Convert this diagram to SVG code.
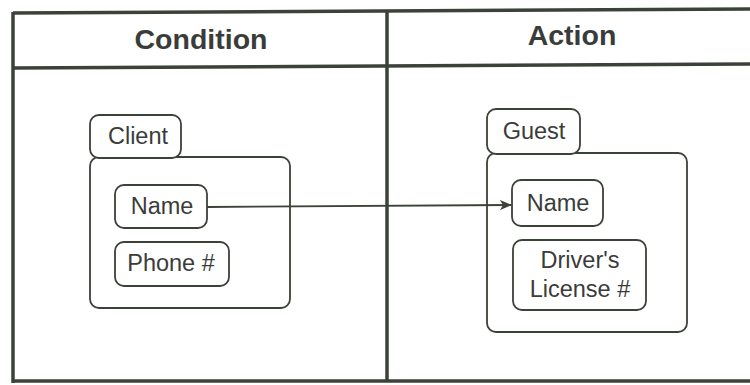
<svg xmlns="http://www.w3.org/2000/svg" width="750" height="385" viewBox="0 0 750 385">
  <style>
    .frame { fill: none; stroke: #3b4239; stroke-width: 3.5; }
    .box { fill: #ffffff; stroke: #3b4239; stroke-width: 1.8; }
    .hdr { font-family: "Liberation Sans", Arial, sans-serif; font-size: 28.5px; font-weight: bold; fill: #3a3c3a; text-anchor: middle; }
    .lbl { font-family: "Liberation Sans", Arial, sans-serif; font-size: 23.5px; fill: #3a3c3a; text-anchor: middle; }
    .conn { fill: none; stroke: #3b4239; stroke-width: 1.8; }
  </style>
  <defs>
    <marker id="arrow" viewBox="0 0 12 10" refX="11" refY="5" markerWidth="12" markerHeight="10" markerUnits="userSpaceOnUse" orient="auto">
      <path d="M0,0 L12,5 L0,10 L3,5 Z" fill="#3b4239"/>
    </marker>
  </defs>
  <rect width="750" height="385" fill="#ffffff"/>

  <!-- table frame -->
  <g id="table">
    <path class="frame" d="M13,13 L750,9"/>
    <path class="frame" d="M13,68 L750,64"/>
    <path class="frame" d="M13,381 L750,381"/>
    <path class="frame" d="M13,12 L13,383"/>
    <path class="frame" d="M387,11 L387,382"/>
    <text class="hdr" x="201" y="49">Condition</text>
    <text class="hdr" x="572" y="45">Action</text>
  </g>

  <!-- Client entity -->
  <g id="client">
    <rect class="box" x="90" y="157" width="200" height="151" rx="9"/>
    <rect class="box" x="90" y="115" width="91" height="43" rx="9"/>
    <text class="lbl" x="138" y="144">Client</text>
  </g>
  <g id="client-name">
    <rect class="box" x="115" y="185" width="92" height="43" rx="9"/>
    <text class="lbl" x="162" y="214">Name</text>
  </g>
  <g id="client-phone">
    <rect class="box" x="115" y="242" width="114" height="44" rx="9"/>
    <text class="lbl" x="171" y="271">Phone #</text>
  </g>

  <!-- Guest entity -->
  <g id="guest">
    <rect class="box" x="487" y="153" width="200" height="179" rx="9"/>
    <rect class="box" x="487" y="109" width="93" height="45" rx="9"/>
    <text class="lbl" x="534" y="139">Guest</text>
  </g>
  <g id="guest-name">
    <rect class="box" x="512" y="180" width="91" height="46" rx="9"/>
    <text class="lbl" x="558" y="211">Name</text>
  </g>
  <g id="guest-license">
    <rect class="box" x="513" y="240" width="133" height="70" rx="9"/>
    <text class="lbl" x="580" y="268">Driver's</text>
    <text class="lbl" x="580" y="297">License #</text>
  </g>

  <!-- connectors -->
  <g id="connectors">
    <path class="conn" d="M207,207 L511,205" marker-end="url(#arrow)"/>
  </g>
</svg>
